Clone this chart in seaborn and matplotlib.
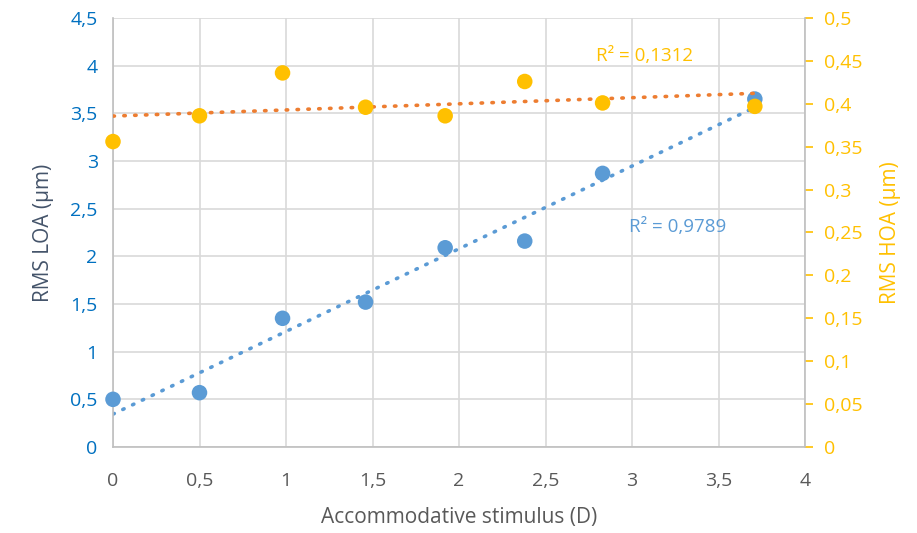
import numpy as np
import pandas as pd
import matplotlib
matplotlib.use("Agg")
import matplotlib.pyplot as plt
import seaborn as sns
from matplotlib.ticker import FuncFormatter, MultipleLocator

# Data
stimulus = [0.0, 0.5, 0.98, 1.46, 1.92, 2.38, 2.83, 3.71]
rms_loa = [0.50, 0.57, 1.35, 1.52, 2.09, 2.16, 2.87, 3.65]
rms_hoa = [0.356, 0.386, 0.436, 0.396, 0.386, 0.426, 0.401, 0.397]
r2_loa_label = "R² = 0,9789"
r2_hoa_label = "R² = 0,1312"

df = pd.DataFrame({"x": stimulus, "loa": rms_loa, "hoa": rms_hoa})

sns.set_style("white")
plt.rcParams["font.family"] = ["Open Sans", "DejaVu Sans"]

BLUE_PT = "#5B9BD5"
BLUE_TXT = "#0070C0"
YEL = "#FFC000"
ORA = "#ED7D31"
GRID = "#D9D9D9"

fig = plt.figure(figsize=(9.17, 5.33), dpi=100)
ax = fig.add_axes([113/917, 1-447/533, (805-113)/917, (447-18)/533])
ax2 = ax.twinx()

comma = FuncFormatter(lambda v, p: ("%g" % round(v, 4)).replace(".", ","))

# left axis
ax.set_xlim(0, 4)
ax.set_ylim(0, 4.5)
ax.xaxis.set_major_locator(MultipleLocator(0.5))
ax.yaxis.set_major_locator(MultipleLocator(0.5))
ax.xaxis.set_major_formatter(comma)
ax.yaxis.set_major_formatter(comma)
ax.grid(True, color=GRID, lw=1.2)
ax.set_axisbelow(True)
for s in ["top", "right"]:
    ax.spines[s].set_visible(False)
for s in ["left", "bottom"]:
    ax.spines[s].set_color("#BFBFBF")
    ax.spines[s].set_linewidth(1.2)
ax.tick_params(axis="y", colors=BLUE_TXT, labelsize=14, length=0, pad=11)
ax.tick_params(axis="x", colors="#595959", labelsize=14, length=0, pad=18)

# right axis
ax2.set_ylim(0, 0.5)
ax2.yaxis.set_major_locator(MultipleLocator(0.05))
ax2.yaxis.set_major_formatter(comma)
for s in ["top", "left", "bottom"]:
    ax2.spines[s].set_visible(False)
ax2.spines["right"].set_color("#BFBFBF")
ax2.spines["right"].set_linewidth(1.2)
ax2.tick_params(axis="y", colors=YEL, labelsize=14, length=6, width=1.2, pad=8)
for t in ax2.yaxis.get_ticklines():
    t.set_color("#BFBFBF")
ax2.grid(False)

dot = dict(ls=(0, (0.4, 2.6)), lw=2.6, dash_capstyle="round")

# trendlines
sns.regplot(data=df, x="x", y="loa", ax=ax, ci=None, scatter=False,
            line_kws=dict(color=BLUE_PT, **dot))
sns.regplot(data=df, x="x", y="hoa", ax=ax2, ci=None, scatter=False,
            line_kws=dict(color=ORA, **dot))

# points
sns.scatterplot(data=df, x="x", y="loa", ax=ax, color=BLUE_PT, s=125,
                edgecolor="none", zorder=3, clip_on=False)
sns.scatterplot(data=df, x="x", y="hoa", ax=ax2, color=YEL, s=125,
                edgecolor="none", zorder=3, clip_on=False)

ax.set_xlabel("Accommodative stimulus (D)", color="#595959", fontsize=15, labelpad=12)
ax.set_ylabel("RMS LOA (µm)", color="#44546A", fontsize=15, labelpad=12)
ax2.set_ylabel("RMS HOA (µm)", color=YEL, fontsize=15, labelpad=12)
ax.set_xlim(0, 4)
ax.set_ylim(0, 4.5)
ax2.set_ylim(0, 0.5)

ax.text(2.79, 4.10, r2_hoa_label, color=YEL, fontsize=13.5, va="center")
ax.text(2.98, 2.31, r2_loa_label, color=BLUE_PT, fontsize=13.5, va="center")

fig.savefig("out.png", dpi=100)
